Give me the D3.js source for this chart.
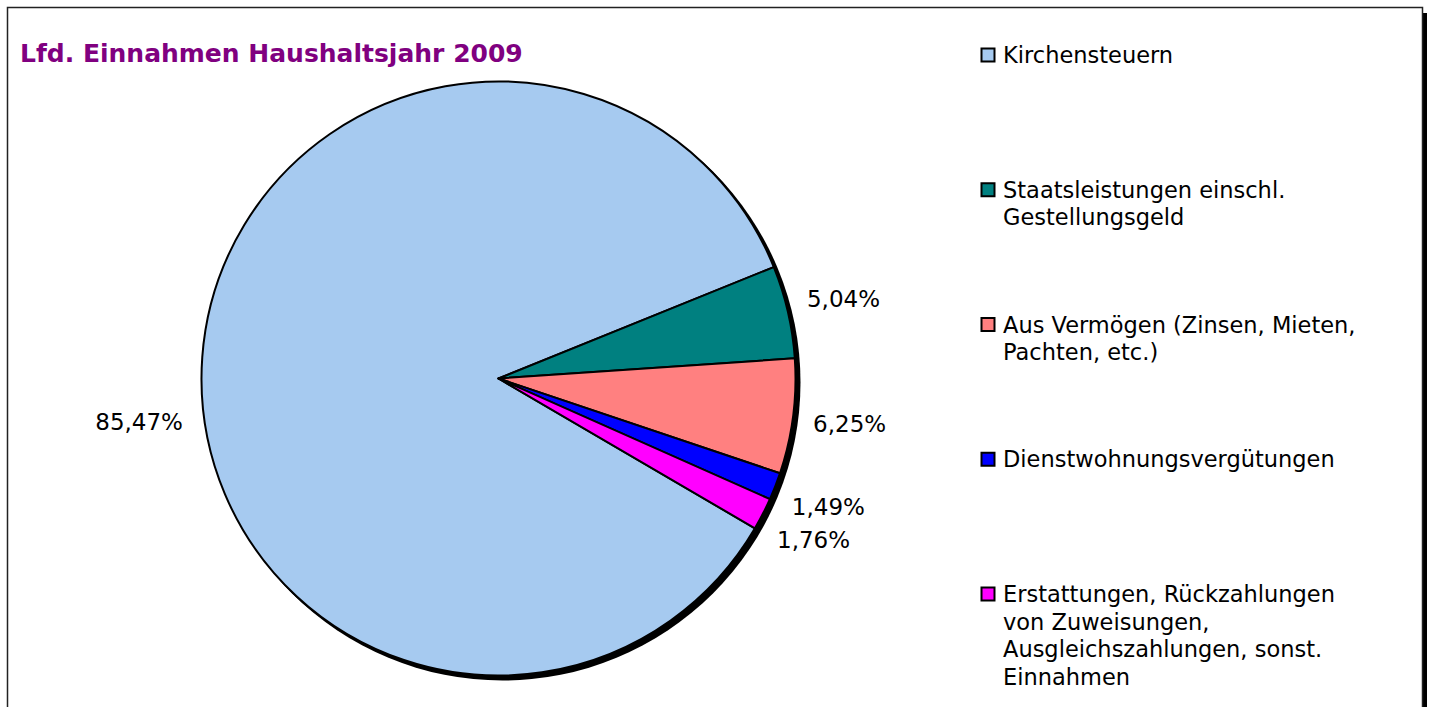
<!DOCTYPE html>
<html lang="de">
<head>
    <meta charset="UTF-8">
    <title>Lfd. Einnahmen Haushaltsjahr 2009</title>
    <script src="https://d3js.org/d3.v7.min.js"></script>
    <style>
        body {
            margin: 0;
            padding: 0;
            background: #fff;
        }
        svg text {
            font-family: "DejaVu Sans", Verdana, sans-serif;
        }
    </style>
</head>
<body>
    <svg id="chart" width="1431" height="707"></svg>

    <script>
        // data
        const categories = [
            "Kirchensteuern",
            "Staatsleistungen einschl. Gestellungsgeld",
            "Aus Vermögen (Zinsen, Mieten, Pachten, etc.)",
            "Dienstwohnungsvergütungen",
            "Erstattungen, Rückzahlungen von Zuweisungen, Ausgleichszahlungen, sonst. Einnahmen"
        ];
        const shares = [85.47, 5.04, 6.25, 1.49, 1.76];
        const valueLabels = ["85,47%", "5,04%", "6,25%", "1,49%", "1,76%"];
        const legendLines = [
            ["Kirchensteuern"],
            ["Staatsleistungen einschl.", "Gestellungsgeld"],
            ["Aus Vermögen (Zinsen, Mieten,", "Pachten, etc.)"],
            ["Dienstwohnungsvergütungen"],
            ["Erstattungen, Rückzahlungen", "von Zuweisungen,", "Ausgleichszahlungen, sonst.", "Einnahmen"]
        ];
        const sliceColors = ["#a6caf0", "#008080", "#ff8080", "#0000ff", "#ff00ff"];

        const svg = d3.select("#chart");

        // chart area frame with its shadow
        svg.append("rect")
            .attr("x", 12).attr("y", 13)
            .attr("width", 1415).attr("height", 720)
            .attr("fill", "#000");
        svg.append("rect")
            .attr("x", 7.5).attr("y", 7.5)
            .attr("width", 1415).attr("height", 720)
            .attr("fill", "#fff")
            .attr("stroke", "#222")
            .attr("stroke-width", 1.5);

        svg.append("text")
            .attr("x", 20)
            .attr("y", 62)
            .attr("fill", "#800080")
            .attr("font-size", 25)
            .attr("font-weight", "bold")
            .text("Lfd. Einnahmen Haushaltsjahr 2009");

        const cx = 498.5, cy = 378.5, radius = 297;
        const rot = 120.3 * Math.PI / 180;

        const pie = d3.pie()
            .sort(null)
            .startAngle(rot)
            .endAngle(rot + 2 * Math.PI)
            .value(d => d);

        const arc = d3.arc().innerRadius(0).outerRadius(radius);
        const arcs = pie(shares);

        const g = svg.append("g").attr("transform", `translate(${cx},${cy})`);

        // drop shadow of the pie
        g.append("circle")
            .attr("cx", 4).attr("cy", 4)
            .attr("r", radius + 1)
            .attr("fill", "#000");

        g.selectAll("path.slice")
            .data(arcs)
            .enter()
            .append("path")
            .attr("class", "slice")
            .attr("d", arc)
            .attr("fill", (d, i) => sliceColors[i])
            .attr("stroke", "#000")
            .attr("stroke-width", 2)
            .attr("stroke-linejoin", "round");

        // value labels outside the slices
        const labelRadius = 354;
        const biggest = d3.maxIndex(shares);
        g.selectAll("text.value")
            .data(arcs)
            .enter()
            .append("text")
            .attr("class", "value")
            .attr("text-anchor", "middle")
            .attr("dominant-baseline", "central")
            .attr("font-size", 23)
            .attr("fill", "#000")
            .attr("transform", (d, i) => {
                let a = (d.startAngle + d.endAngle) / 2;
                let r = labelRadius;
                // the big label sits a bit lower in the original
                if (i === biggest) { a -= 11 * Math.PI / 180; r = 362; }
                return `translate(${r * Math.sin(a)},${-r * Math.cos(a)})`;
            })
            .text((d, i) => valueLabels[i]);

        // legend
        const legendY = d3.scaleLinear().domain([0, 4]).range([63, 602]);
        const legend = svg.append("g");
        const items = legend.selectAll("g.item")
            .data(categories)
            .enter()
            .append("g")
            .attr("class", "item")
            .attr("transform", (d, i) => `translate(981,${legendY(i)})`);

        items.append("rect")
            .attr("x", 0.5).attr("y", -14.5)
            .attr("width", 13).attr("height", 13)
            .attr("fill", (d, i) => sliceColors[i])
            .attr("stroke", "#000")
            .attr("stroke-width", 2);

        items.append("text")
            .attr("x", 22)
            .attr("font-size", 22.5)
            .attr("fill", "#000")
            .selectAll("tspan")
            .data((d, i) => legendLines[i])
            .enter()
            .append("tspan")
            .attr("x", 22)
            .attr("y", (d, j) => j * 27.6)
            .text(d => d);
    </script>
</body>
</html>
